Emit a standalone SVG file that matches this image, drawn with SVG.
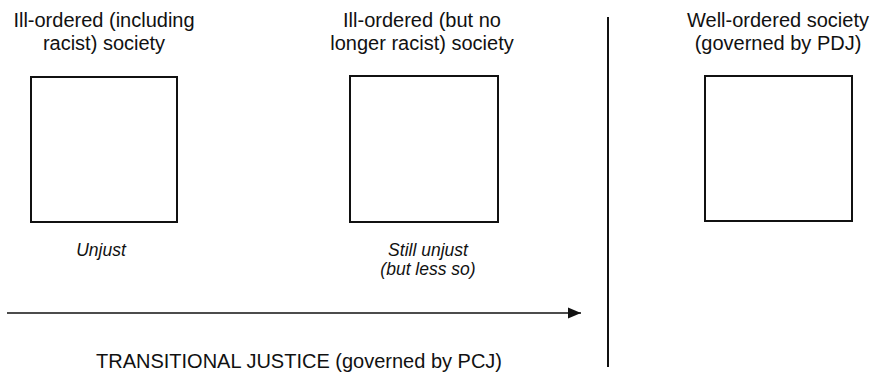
<svg xmlns="http://www.w3.org/2000/svg" width="873" height="376" viewBox="0 0 873 376">
<style>
text{font-family:"Liberation Sans",Arial,sans-serif;font-size:20px;fill:#111;text-anchor:middle}
.it{font-style:italic;font-size:17.5px}
.box{fill:none;stroke:#111;stroke-width:2}
.ln{stroke:#111;stroke-width:1.6;fill:none}
</style>
<defs>
<marker id="ah" markerWidth="13" markerHeight="12" refX="13" refY="6" orient="auto" markerUnits="userSpaceOnUse">
<path d="M0,0.5 L13,6 L0,11.5 Z" fill="#111"/>
</marker>
</defs>
<g id="node-ill1">
<text x="104" y="27">Ill-ordered (including</text>
<text x="104" y="50">racist) society</text>
<rect class="box" x="31" y="77" width="146" height="145"/>
<text class="it" x="101" y="256">Unjust</text>
</g>
<g id="node-ill2">
<text x="422" y="27">Ill-ordered (but no</text>
<text x="422" y="50">longer racist) society</text>
<rect class="box" x="350" y="76" width="148" height="146"/>
<text class="it" x="428" y="256">Still unjust</text>
<text class="it" x="428" y="275">(but less so)</text>
</g>
<g id="node-well">
<text x="778" y="27">Well-ordered society</text>
<text x="778" y="50">(governed by PDJ)</text>
<rect class="box" x="705" y="76" width="147" height="145"/>
</g>
<g id="connectors">
<line class="ln" x1="7" y1="313" x2="581" y2="313" marker-end="url(#ah)"/>
<line class="ln" x1="608" y1="17" x2="608" y2="367" style="stroke-width:2"/>
</g>
<text x="299" y="368">TRANSITIONAL JUSTICE (governed by PCJ)</text>
</svg>
